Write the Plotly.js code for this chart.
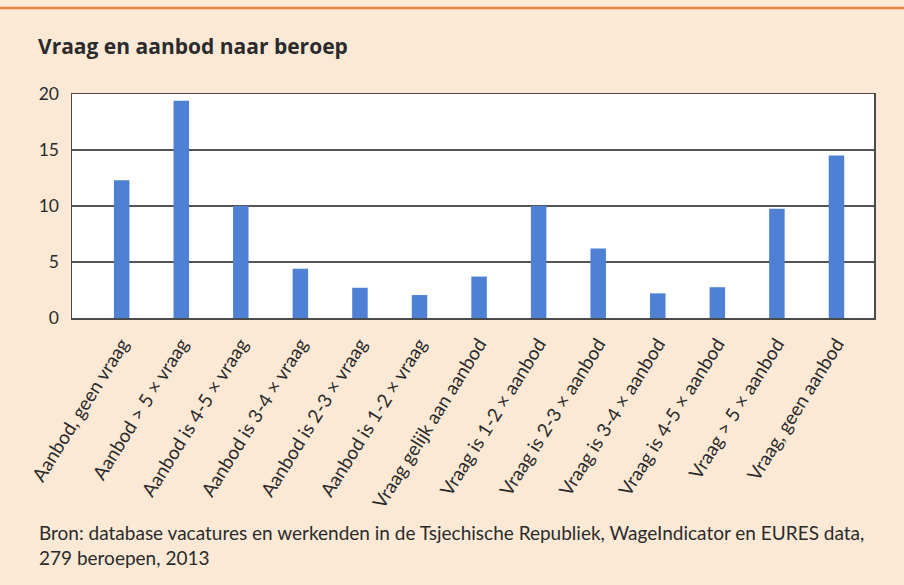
<!DOCTYPE html>
<html>
<head>
<meta charset="utf-8">
<script src="https://cdn.plot.ly/plotly-3.0.1.min.js"></script>
<style>
  html, body { margin: 0; padding: 0; background: #fbe9d5; }
  #chart { width: 904px; height: 585px; }
</style>
</head>
<body>
<div id="chart"></div>
<script>
const categories = [
  "Aanbod, geen vraag",
  "Aanbod > 5 × vraag",
  "Aanbod is 4-5 × vraag",
  "Aanbod is 3-4 × vraag",
  "Aanbod is 2-3 × vraag",
  "Aanbod is 1-2 × vraag",
  "Vraag gelijk aan aanbod",
  "Vraag is 1-2 × aanbod",
  "Vraag is 2-3 × aanbod",
  "Vraag is 3-4 × aanbod",
  "Vraag is 4-5 × aanbod",
  "Vraag > 5 × aanbod",
  "Vraag, geen aanbod"
];
const values = [12.3, 19.4, 10.0, 4.4, 2.7, 2.05, 3.7, 10.0, 6.2, 2.2, 2.75, 9.75, 14.5];
const yTicks = [0, 5, 10, 15, 20];
const titleText = "Vraag en aanbod naar beroep";
const sourceText = "Bron: database vacatures en werkenden in de Tsjechische Republiek, WageIndicator en EURES data,<br>279 beroepen, 2013";

const FONT = "Lato, 'Open Sans', sans-serif";
const TXT = "#2b2b2b";

const trace = {
  type: "bar",
  x: categories.map((c, i) => i),
  y: values,
  width: 0.26,
  marker: { color: "#4e80d3", line: { width: 0 } },
  hoverinfo: "x+y"
};

const layout = {
  width: 904,
  height: 585,
  paper_bgcolor: "#fbe9d5",
  plot_bgcolor: "#ffffff",
  margin: { l: 72, r: 30, t: 94, b: 267 },
  showlegend: false,
  title: {
    text: "<b>" + titleText + "</b>",
    x: 38 / 904, xref: "container", xanchor: "left",
    y: 1 - 47 / 585, yanchor: "middle", yref: "container",
    font: { family: "'Open Sans', sans-serif", size: 21, color: TXT }
  },
  xaxis: {
    type: "linear",
    range: [-0.834, 12.63],
    tickmode: "array",
    tickvals: categories.map((c, i) => i),
    ticktext: categories,
    tickangle: -58,
    tickfont: { family: FONT, size: 19, color: TXT },
    showgrid: false,
    zeroline: false,
    showline: true, linecolor: "#4a4a4a", linewidth: 1.5, mirror: true,
    ticks: "", ticklabelstandoff: 6, fixedrange: true
  },
  yaxis: {
    range: [0, 20],
    tickmode: "array",
    tickvals: yTicks,
    ticktext: yTicks.map(String),
    tickfont: { family: FONT, size: 17.5, color: TXT },
    showgrid: true, gridcolor: "#555555", gridwidth: 1.5,
    zeroline: false,
    showline: true, linecolor: "#4a4a4a", linewidth: 1.5, mirror: true,
    ticks: "", ticklabelstandoff: 8, fixedrange: true
  },
  shapes: [
    { type: "line", xref: "paper", yref: "paper",
      x0: -72 / 802, x1: (904 - 72) / 802, y0: 1 + 86 / 224, y1: 1 + 86 / 224,
      line: { color: "#e8853f", width: 2.5 } }
  ],
  annotations: [
    { text: sourceText, xref: "paper", yref: "paper",
      x: (37 - 72) / 802, y: -(519 - 318) / 224,
      xanchor: "left", yanchor: "top", align: "left", showarrow: false,
      font: { family: FONT, size: 19, color: TXT } }
  ]
};

Plotly.newPlot("chart", [trace], layout, { displayModeBar: false, staticPlot: true });
</script>
</body>
</html>
